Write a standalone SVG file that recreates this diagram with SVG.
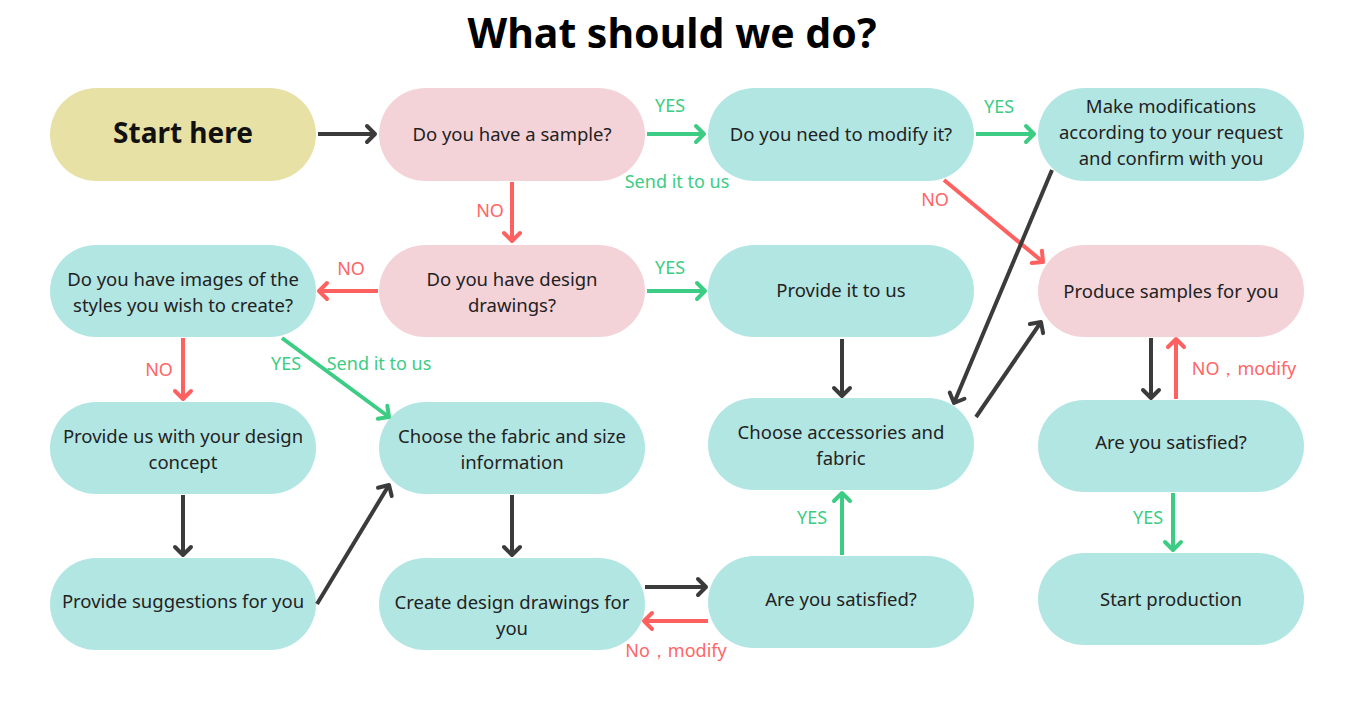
<svg xmlns="http://www.w3.org/2000/svg" width="1366" height="706" viewBox="0 0 1366 706">
<defs>
<style>
.n rect{stroke:none}
.y{fill:#E8E1A5}.p{fill:#F4D3D8}.t{fill:#B2E6E3}
.tx{font-family:"Noto Sans","Open Sans",sans-serif;font-size:18.5px;fill:#222;text-anchor:middle}
.lb{font-family:"Noto Sans","Open Sans",sans-serif;font-size:18px}
.g{fill:#3DCC84}.r{fill:#FF6666}
.c line{stroke-width:4;stroke-linecap:butt;fill:none}
.cd{stroke:#3B3B3B}.cg{stroke:#3DCC84}.cr{stroke:#FF6161}
</style>
<marker id="ad" markerUnits="userSpaceOnUse" markerWidth="16" markerHeight="22" refX="11" refY="11" orient="auto" overflow="visible"><path d="M3,3 L11,11 L3,19" fill="none" stroke="#3B3B3B" stroke-width="4" stroke-linecap="round" stroke-linejoin="round"/></marker>
<marker id="ag" markerUnits="userSpaceOnUse" markerWidth="16" markerHeight="22" refX="11" refY="11" orient="auto" overflow="visible"><path d="M3,3 L11,11 L3,19" fill="none" stroke="#3DCC84" stroke-width="4" stroke-linecap="round" stroke-linejoin="round"/></marker>
<marker id="ar" markerUnits="userSpaceOnUse" markerWidth="16" markerHeight="22" refX="11" refY="11" orient="auto" overflow="visible"><path d="M3,3 L11,11 L3,19" fill="none" stroke="#FF6161" stroke-width="4" stroke-linecap="round" stroke-linejoin="round"/></marker>
</defs>
<rect width="1366" height="706" fill="#fff"/>
<text x="672" y="48" font-family="'Noto Sans','Open Sans',sans-serif" font-size="41" font-weight="bold" fill="#000" text-anchor="middle">What should we do?</text>

<g id="n-start" class="n"><rect class="y" x="50" y="88" width="266" height="93" rx="46.5"/><text x="183" y="143" font-family="'Noto Sans','Open Sans',sans-serif" font-size="28" font-weight="bold" fill="#111" text-anchor="middle">Start here</text></g>
<g id="n-sample" class="n"><rect class="p" x="379" y="88" width="266" height="93" rx="46.5"/><text class="tx" x="512" y="141">Do you have a sample?</text></g>
<g id="n-modify" class="n"><rect class="t" x="708" y="88" width="266" height="93" rx="46.5"/><text class="tx" x="841" y="141">Do you need to modify it?</text></g>
<g id="n-makemod" class="n"><rect class="t" x="1038" y="88" width="266" height="93" rx="46.5"/><text class="tx" x="1171" y="113">Make modifications</text><text class="tx" x="1171" y="139">according to your request</text><text class="tx" x="1171" y="165">and confirm with you</text></g>

<g id="n-images" class="n"><rect class="t" x="50" y="245" width="266" height="92" rx="46"/><text class="tx" x="183" y="286">Do you have images of the</text><text class="tx" x="183" y="312">styles you wish to create?</text></g>
<g id="n-design" class="n"><rect class="p" x="379" y="245" width="266" height="92" rx="46"/><text class="tx" x="512" y="286">Do you have design</text><text class="tx" x="512" y="312">drawings?</text></g>
<g id="n-provideit" class="n"><rect class="t" x="708" y="245" width="266" height="92" rx="46"/><text class="tx" x="841" y="297">Provide it to us</text></g>
<g id="n-produce" class="n"><rect class="p" x="1038" y="245" width="266" height="92" rx="46"/><text class="tx" x="1171" y="298">Produce samples for you</text></g>

<g id="n-concept" class="n"><rect class="t" x="50" y="402" width="266" height="92" rx="46"/><text class="tx" x="183" y="443">Provide us with your design</text><text class="tx" x="183" y="469">concept</text></g>
<g id="n-fabric" class="n"><rect class="t" x="379" y="402" width="266" height="92" rx="46"/><text class="tx" x="512" y="443">Choose the fabric and size</text><text class="tx" x="512" y="469">information</text></g>
<g id="n-access" class="n"><rect class="t" x="708" y="398" width="266" height="92" rx="46"/><text class="tx" x="841" y="439">Choose accessories and</text><text class="tx" x="841" y="465">fabric</text></g>
<g id="n-sat2" class="n"><rect class="t" x="1038" y="400" width="266" height="92" rx="46"/><text class="tx" x="1171" y="449">Are you satisfied?</text></g>

<g id="n-suggest" class="n"><rect class="t" x="50" y="558" width="266" height="92" rx="46"/><text class="tx" x="183" y="608">Provide suggestions for you</text></g>
<g id="n-create" class="n"><rect class="t" x="379" y="558" width="266" height="92" rx="46"/><text class="tx" x="512" y="609">Create design drawings for</text><text class="tx" x="512" y="635">you</text></g>
<g id="n-sat1" class="n"><rect class="t" x="708" y="556" width="266" height="92" rx="46"/><text class="tx" x="841" y="606">Are you satisfied?</text></g>
<g id="n-startprod" class="n"><rect class="t" x="1038" y="553" width="266" height="92" rx="46"/><text class="tx" x="1171" y="606">Start production</text></g>

<g id="connectors" class="c">
<line class="cd" x1="318" y1="134" x2="375" y2="134" marker-end="url(#ad)"/>
<line class="cg" x1="647" y1="134" x2="704" y2="134" marker-end="url(#ag)"/>
<line class="cg" x1="976" y1="134" x2="1034" y2="134" marker-end="url(#ag)"/>
<line class="cr" x1="512" y1="182" x2="512" y2="241" marker-end="url(#ar)"/>
<line class="cr" x1="944" y1="180" x2="1043" y2="262" marker-end="url(#ar)"/>
<line class="cd" x1="1052" y1="170" x2="954" y2="403" marker-end="url(#ad)"/>
<line class="cr" x1="378" y1="291" x2="319" y2="291" marker-end="url(#ar)"/>
<line class="cg" x1="647" y1="291" x2="705" y2="291" marker-end="url(#ag)"/>
<line class="cr" x1="183" y1="338" x2="183" y2="399" marker-end="url(#ar)"/>
<line class="cg" x1="282" y1="338" x2="389" y2="417" marker-end="url(#ag)"/>
<line class="cd" x1="842" y1="339" x2="842" y2="396" marker-end="url(#ad)"/>
<line class="cd" x1="976" y1="417" x2="1041" y2="322" marker-end="url(#ad)"/>
<line class="cd" x1="1151" y1="338" x2="1151" y2="398" marker-end="url(#ad)"/>
<line class="cr" x1="1176" y1="399" x2="1176" y2="339" marker-end="url(#ar)"/>
<line class="cg" x1="1173" y1="493" x2="1173" y2="550" marker-end="url(#ag)"/>
<line class="cd" x1="183" y1="495" x2="183" y2="555" marker-end="url(#ad)"/>
<line class="cd" x1="317" y1="604" x2="389" y2="485" marker-end="url(#ad)"/>
<line class="cd" x1="512" y1="495" x2="512" y2="555" marker-end="url(#ad)"/>
<line class="cd" x1="645" y1="587" x2="706" y2="587" marker-end="url(#ad)"/>
<line class="cr" x1="708" y1="621" x2="644" y2="621" marker-end="url(#ar)"/>
<line class="cg" x1="842" y1="555" x2="842" y2="493" marker-end="url(#ag)"/>
</g>

<g id="labels" class="lb">
<text class="g" x="670" y="112" text-anchor="middle">YES</text>
<text class="g" x="677" y="188" text-anchor="middle">Send it to us</text>
<text class="g" x="999" y="113" text-anchor="middle">YES</text>
<text class="r" x="490" y="217" text-anchor="middle">NO</text>
<text class="r" x="935" y="206" text-anchor="middle">NO</text>
<text class="r" x="351" y="275" text-anchor="middle">NO</text>
<text class="g" x="670" y="274" text-anchor="middle">YES</text>
<text class="r" x="159" y="376" text-anchor="middle">NO</text>
<text class="g" x="286" y="370" text-anchor="middle">YES</text>
<text class="g" x="379" y="370" text-anchor="middle">Send it to us</text>
<text class="r" x="1244" y="375" text-anchor="middle">NO，modify</text>
<text class="g" x="1148" y="524" text-anchor="middle">YES</text>
<text class="g" x="812" y="524" text-anchor="middle">YES</text>
<text class="r" x="676" y="657" text-anchor="middle">No，modify</text>
</g>
</svg>
